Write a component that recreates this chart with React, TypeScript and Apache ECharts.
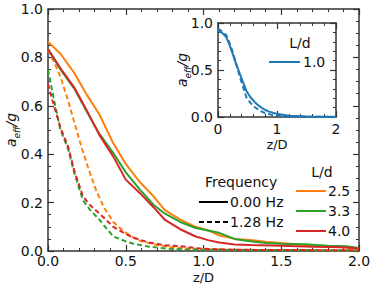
import React, { useEffect, useRef } from "react";
import * as echarts from "echarts";

// ---- data ----
const xTicks = [0, 0.5, 1.0, 1.5, 2.0];
const yTicks = [0, 0.2, 0.4, 0.6, 0.8, 1.0];

// L/d = 2.5, 0.00 Hz
const z25s = [0, 0.08, 0.17, 0.25, 0.33, 0.42, 0.5, 0.59, 0.68, 0.75, 0.85, 0.95, 1.03, 1.1, 1.2, 1.3, 1.4, 1.5, 1.65, 1.8, 2.0];
const a25s = [0.865, 0.815, 0.735, 0.645, 0.565, 0.445, 0.36, 0.285, 0.225, 0.17, 0.13, 0.1, 0.085, 0.065, 0.05, 0.045, 0.038, 0.033, 0.025, 0.02, 0.01];
// L/d = 3.3, 0.00 Hz
const z33s = [0, 0.08, 0.17, 0.25, 0.33, 0.42, 0.5, 0.59, 0.68, 0.75, 0.85, 0.95, 1.03, 1.1, 1.2, 1.3, 1.4, 1.5, 1.65, 1.8, 1.92, 2.0];
const a33s = [0.835, 0.75, 0.67, 0.575, 0.485, 0.405, 0.325, 0.255, 0.19, 0.155, 0.12, 0.095, 0.085, 0.075, 0.05, 0.04, 0.033, 0.03, 0.028, 0.022, 0.02, 0.012];
// L/d = 4.0, 0.00 Hz
const z40s = [0, 0.08, 0.17, 0.25, 0.33, 0.42, 0.5, 0.59, 0.68, 0.75, 0.85, 0.95, 1.03, 1.1, 1.2, 1.3, 1.5, 1.7, 1.9, 2.0];
const a40s = [0.835, 0.755, 0.675, 0.58, 0.48, 0.39, 0.295, 0.24, 0.18, 0.13, 0.09, 0.06, 0.045, 0.035, 0.027, 0.025, 0.022, 0.018, 0.015, 0.01];
// L/d = 2.5, 1.28 Hz
const z25d = [0, 0.04, 0.08, 0.13, 0.17, 0.215, 0.26, 0.31, 0.36, 0.42, 0.49, 0.55, 0.6, 0.7, 0.8, 0.9, 1.0, 1.2, 1.5, 2.0];
const a25d = [0.83, 0.78, 0.72, 0.62, 0.53, 0.43, 0.34, 0.25, 0.18, 0.12, 0.08, 0.055, 0.04, 0.025, 0.015, 0.01, 0.007, 0.005, 0.004, 0.003];
// L/d = 3.3, 1.28 Hz
const z33d = [0, 0.04, 0.08, 0.13, 0.17, 0.225, 0.27, 0.33, 0.38, 0.42, 0.5, 0.55, 0.65, 0.76, 0.9, 1.1, 1.5, 2.0];
const a33d = [0.75, 0.62, 0.5, 0.42, 0.32, 0.21, 0.17, 0.13, 0.09, 0.06, 0.04, 0.03, 0.018, 0.01, 0.006, 0.004, 0.003, 0.002];
// L/d = 4.0, 1.28 Hz
const z40d = [0, 0.03, 0.08, 0.13, 0.17, 0.225, 0.27, 0.33, 0.38, 0.42, 0.5, 0.55, 0.65, 0.76, 0.85, 0.98, 1.1, 1.2, 1.5, 2.0];
const a40d = [0.69, 0.62, 0.51, 0.43, 0.33, 0.225, 0.19, 0.155, 0.125, 0.1, 0.07, 0.055, 0.035, 0.023, 0.02, 0.01, 0.007, 0.005, 0.004, 0.003];
// inset: L/d = 1.0
const z10s = [0, 0.07, 0.14, 0.2, 0.25, 0.31, 0.37, 0.43, 0.48, 0.55, 0.62, 0.7, 0.76, 0.85, 0.99, 1.2, 1.5, 2.0];
const a10s = [0.915, 0.895, 0.85, 0.76, 0.67, 0.56, 0.46, 0.36, 0.28, 0.21, 0.16, 0.115, 0.09, 0.06, 0.035, 0.014, 0.005, 0.002];
const z10d = [0, 0.07, 0.14, 0.2, 0.25, 0.31, 0.37, 0.43, 0.48, 0.55, 0.62, 0.7, 0.79, 0.9, 1.0, 1.2, 1.5, 2.0];
const a10d = [0.94, 0.91, 0.87, 0.78, 0.69, 0.56, 0.43, 0.31, 0.21, 0.15, 0.106, 0.07, 0.043, 0.025, 0.014, 0.005, 0.002, 0.001];

const ldLabels = ["2.5", "3.3", "4.0"];
const insetLabels = ["1.0"];
const freqLabels = ["0.00 Hz", "1.28 Hz"];

const C_OR = "#ff7f0e";
const C_GR = "#2ca02c";
const C_RD = "#d62728";
const C_BL = "#1f77b4";
const FONT = "DejaVu Sans";
const AX = "#333";

const zip = (x: number[], y: number[]) => x.map((v, i) => [v, y[i]]);

function axisBase(extra: any) {
  return {
    axisLine: { show: true, onZero: false, lineStyle: { color: AX, width: 1.5 } },
    axisTick: { show: true, inside: true, length: 6, lineStyle: { color: AX, width: 1.2 } },
    minorTick: { show: true, length: 3, lineStyle: { color: AX, width: 1 } },
    splitLine: { show: false },
    nameMoveOverlap: false,
    ...extra,
  };
}

export default function App() {
  const ref = useRef<HTMLDivElement>(null);
  useEffect(() => {
    if (!ref.current) return;
    const chart = echarts.init(ref.current, undefined, { renderer: "svg" });
    const lbl = { fontFamily: FONT, fontSize: 14, color: "#111" };
    const yName = {
      fontFamily: FONT,
      color: "#111",
      rich: {
        a: { fontFamily: FONT, fontSize: 14, fontStyle: "italic", color: "#111", lineHeight: 20, verticalAlign: "middle" },
        s: { fontFamily: FONT, fontSize: 9, fontStyle: "italic", color: "#111", lineHeight: 20, verticalAlign: "bottom", padding: [6, 0, 0, 0] },
      },
    };
    const line = (name: string, x: number[], y: number[], color: string, dashed: boolean, xi = 0, yi = 0) => ({
      type: "line",
      name,
      xAxisIndex: xi,
      yAxisIndex: yi,
      data: zip(x, y),
      showSymbol: false,
      symbol: "none",
      lineStyle: { color, width: 2, type: dashed ? [5, 3] : "solid" },
      z: 3,
    });
    const option: any = {
      animation: false,
      backgroundColor: "#fff",
      grid: [
        { left: 48, top: 9, width: 311, height: 242, show: false, containLabel: false, outerBoundsMode: "none" },
        { left: 218, top: 23, width: 118, height: 94, show: true, backgroundColor: "#fff", borderWidth: 0, z: 5, containLabel: false, outerBoundsMode: "none" },
      ],
      xAxis: [
        axisBase({
          type: "value", gridIndex: 0, position: "bottom", min: 0, max: 2, interval: 0.5,
          minorTick: { show: true, splitNumber: 5, length: 3, lineStyle: { color: AX, width: 1 } },
          axisLabel: { ...lbl, margin: 3, formatter: (v: number) => v.toFixed(1) },
          name: "z/D", nameLocation: "middle", nameGap: 20,
          nameTextStyle: { fontFamily: FONT, fontSize: 13, color: "#111" },
        }),
        axisBase({
          type: "value", gridIndex: 0, position: "top", min: 0, max: 2, interval: 0.5,
          minorTick: { show: true, splitNumber: 5, length: 3, lineStyle: { color: AX, width: 1 } },
          axisLabel: { show: false },
        }),
        axisBase({
          type: "value", gridIndex: 1, position: "bottom", min: 0, max: 2, interval: 1,
          minorTick: { show: true, splitNumber: 5, length: 3, lineStyle: { color: AX, width: 1 } },
          axisLabel: { ...lbl, margin: 5, formatter: (v: number) => v.toFixed(0) },
          name: "z/D", nameLocation: "middle", nameGap: 21,
          nameTextStyle: { fontFamily: FONT, fontSize: 13, color: "#111" },
          z: 6,
        }),
        axisBase({
          type: "value", gridIndex: 1, position: "top", min: 0, max: 2, interval: 1,
          minorTick: { show: true, splitNumber: 5, length: 3, lineStyle: { color: AX, width: 1 } },
          axisLabel: { show: false },
          z: 6,
        }),
      ],
      yAxis: [
        axisBase({
          type: "value", gridIndex: 0, position: "left", min: 0, max: 1, interval: 0.2,
          minorTick: { show: true, splitNumber: 4, length: 3, lineStyle: { color: AX, width: 1 } },
          axisLabel: { ...lbl, margin: 5, formatter: (v: number) => v.toFixed(1) },
          name: "{a|a}{s|eff}{a|/g}", nameLocation: "middle", nameGap: 27, nameRotate: 90,
          nameTextStyle: yName,
        }),
        axisBase({
          type: "value", gridIndex: 0, position: "right", min: 0, max: 1, interval: 0.2,
          minorTick: { show: true, splitNumber: 4, length: 3, lineStyle: { color: AX, width: 1 } },
          axisLabel: { show: false },
        }),
        axisBase({
          type: "value", gridIndex: 1, position: "left", min: 0, max: 1, interval: 0.5,
          minorTick: { show: true, splitNumber: 5, length: 3, lineStyle: { color: AX, width: 1 } },
          axisLabel: { ...lbl, margin: 5, formatter: (v: number) => v.toFixed(1) },
          name: "{a|a}{s|eff}{a|/g}", nameLocation: "middle", nameGap: 26, nameRotate: 90,
          nameTextStyle: yName,
          z: 6,
        }),
        axisBase({
          type: "value", gridIndex: 1, position: "right", min: 0, max: 1, interval: 0.5,
          minorTick: { show: true, splitNumber: 5, length: 3, lineStyle: { color: AX, width: 1 } },
          axisLabel: { show: false },
          z: 6,
        }),
      ],
      series: [
        line("2.5 " + freqLabels[1], z25d, a25d, C_OR, true),
        line("3.3 " + freqLabels[1], z33d, a33d, C_GR, true),
        line("4.0 " + freqLabels[1], z40d, a40d, C_RD, true),
        line("2.5 " + freqLabels[0], z25s, a25s, C_OR, false),
        line("3.3 " + freqLabels[0], z33s, a33s, C_GR, false),
        line("4.0 " + freqLabels[0], z40s, a40s, C_RD, false),
        { ...line("1.0 " + freqLabels[1], z10d, a10d, C_BL, true, 2, 2), z: 7 },
        { ...line("1.0 " + freqLabels[0], z10s, a10s, C_BL, false, 2, 2), z: 7 },
      ],
      graphic: [
        // frequency legend
        { type: "text", left: 205, top: 175, z: 10, style: { text: "Frequency", font: `14px "${FONT}"`, fill: "#111" } },
        { type: "line", z: 10, shape: { x1: 199, y1: 202, x2: 228, y2: 202 }, style: { stroke: "#000", lineWidth: 2 } },
        { type: "text", z: 10, x: 230, y: 202, style: { text: freqLabels[0], font: `14px "${FONT}"`, fill: "#111", verticalAlign: "middle" } },
        { type: "line", z: 10, shape: { x1: 199, y1: 222, x2: 228, y2: 222 }, style: { stroke: "#000", lineWidth: 2, lineDash: [5, 3] } },
        { type: "text", z: 10, x: 230, y: 222, style: { text: freqLabels[1], font: `14px "${FONT}"`, fill: "#111", verticalAlign: "middle" } },
        // L/d legend
        { type: "text", z: 10, x: 322, y: 172, style: { text: "L/d", font: `14px "${FONT}"`, fill: "#111", align: "center", verticalAlign: "middle" } },
        ...[C_OR, C_GR, C_RD].flatMap((c, i) => [
          { type: "line", z: 10, shape: { x1: 296, y1: 191 + 20 * i, x2: 326, y2: 191 + 20 * i }, style: { stroke: c, lineWidth: 2 } },
          { type: "text", z: 10, x: 328, y: 191 + 20 * i, style: { text: ldLabels[i], font: `14px "${FONT}"`, fill: "#111", verticalAlign: "middle" } },
        ]),
        // inset legend
        { type: "text", z: 10, x: 300, y: 43, style: { text: "L/d", font: `14px "${FONT}"`, fill: "#111", align: "center", verticalAlign: "middle" } },
        { type: "line", z: 10, shape: { x1: 269, y1: 62, x2: 300, y2: 62 }, style: { stroke: C_BL, lineWidth: 2 } },
        { type: "text", z: 10, x: 303, y: 62, style: { text: insetLabels[0], font: `14px "${FONT}"`, fill: "#111", verticalAlign: "middle" } },
      ],
    };
    chart.setOption(option);
    return () => chart.dispose();
  }, []);
  return <div ref={ref} style={{ width: 374, height: 291, position: "absolute", left: 0, top: 0 }} />;
}
